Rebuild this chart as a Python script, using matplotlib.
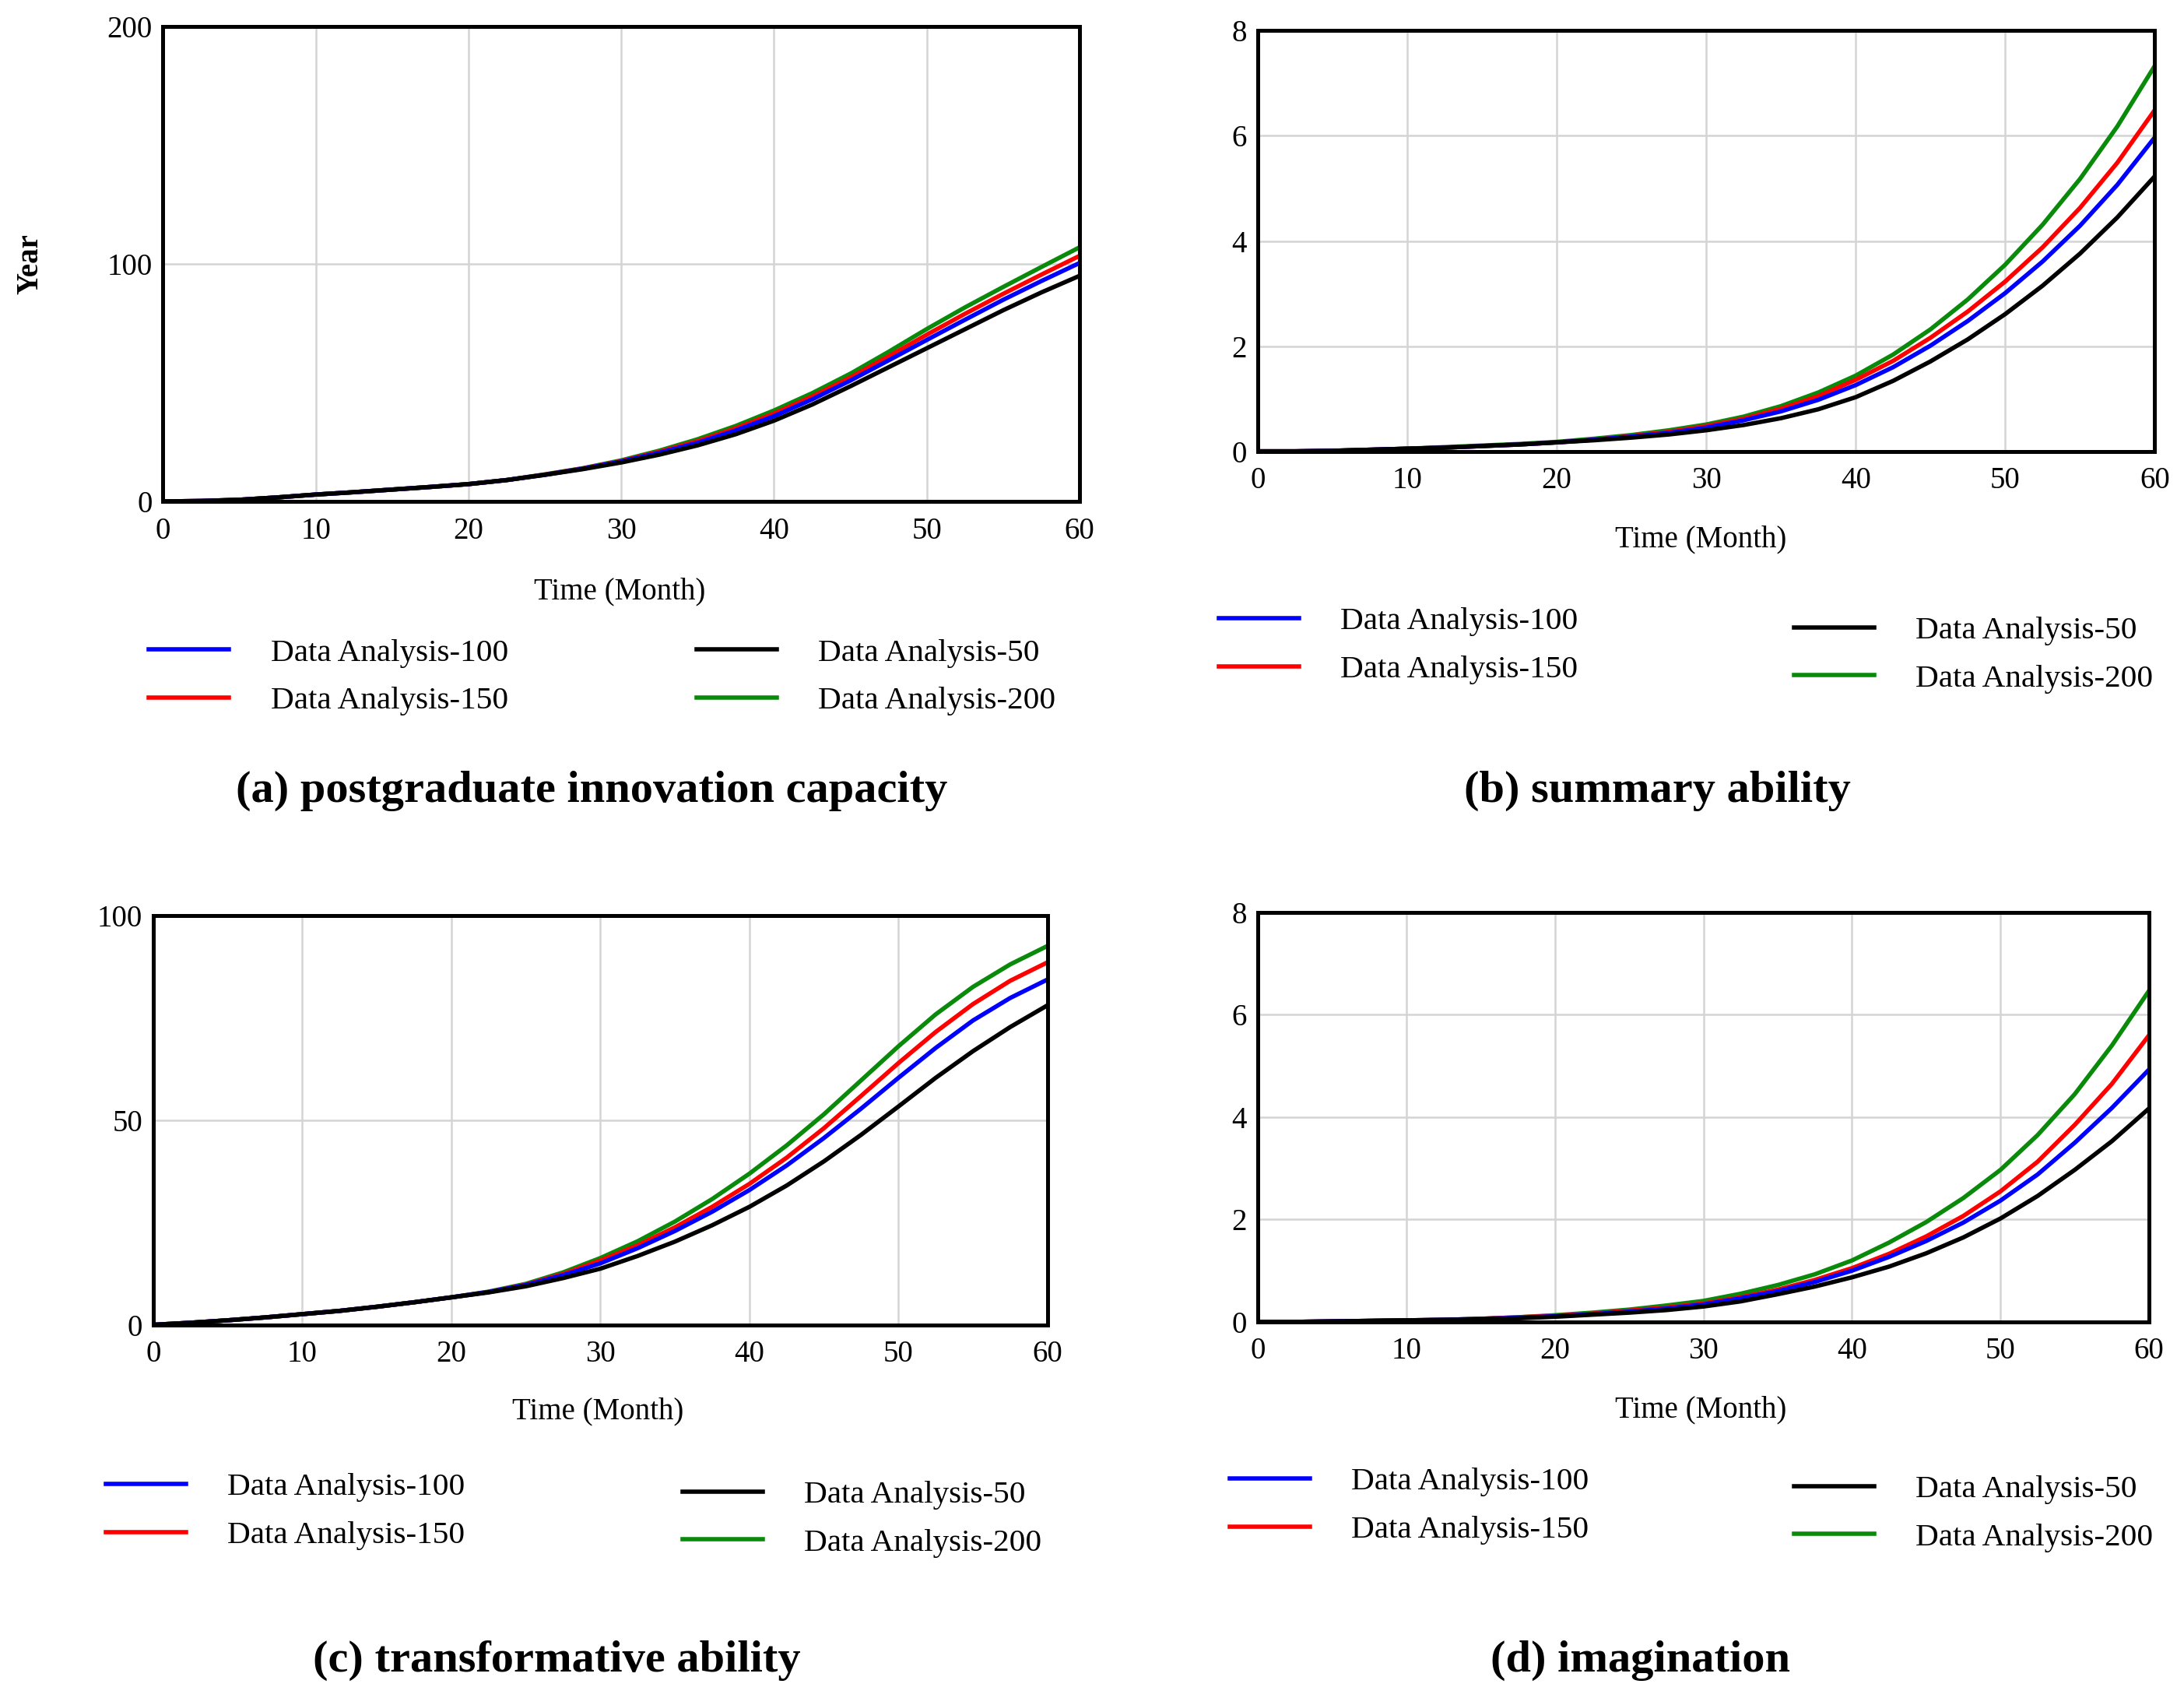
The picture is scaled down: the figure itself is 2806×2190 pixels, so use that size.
import numpy as np
import matplotlib
matplotlib.use('Agg')
import matplotlib.pyplot as plt
from matplotlib.lines import Line2D

plt.rcParams['font.family'] = ['Liberation Serif', 'DejaVu Serif']

# datos (mes 0..60 cada 2.5)
meses = [0, 2.5, 5, 7.5, 10, 12.5, 15, 17.5, 20, 22.5, 25, 27.5, 30,
         32.5, 35, 37.5, 40, 42.5, 45, 47.5, 50, 52.5, 55, 57.5, 60]

# (a) postgraduate innovation capacity
a_50 = [0, 0.2, 0.7, 1.7, 2.9, 3.9, 5.0, 6.1, 7.3, 9.0, 11.2, 13.6, 16.4,
        19.7, 23.6, 28.3, 34.0, 40.8, 48.5, 56.5, 64.5, 72.5, 80.5, 88.0, 95.0]
a_100 = [0, 0.2, 0.7, 1.7, 2.9, 3.9, 5.0, 6.1, 7.3, 9.0, 11.2, 13.8, 16.8,
         20.5, 24.7, 29.9, 35.9, 43.0, 50.9, 59.4, 68.0, 76.5, 84.9, 92.8, 100.4]
a_150 = [0, 0.2, 0.7, 1.7, 2.9, 3.9, 5.0, 6.1, 7.3, 9.0, 11.3, 13.9, 17.0,
         20.9, 25.4, 30.8, 37.0, 44.2, 52.2, 61.1, 70.2, 79.0, 87.4, 95.5, 103.4]
a_200 = [0, 0.2, 0.7, 1.7, 2.9, 3.9, 5.0, 6.1, 7.3, 9.0, 11.4, 14.0, 17.3,
         21.4, 26.2, 31.8, 38.3, 45.6, 53.8, 63.0, 72.6, 81.7, 90.3, 98.7, 107.0]

# (b) summary ability
b_50 = [0, 0, 0.01, 0.03, 0.05, 0.07, 0.10, 0.13, 0.17, 0.21, 0.26, 0.32, 0.40,
        0.50, 0.63, 0.80, 1.03, 1.34, 1.71, 2.13, 2.61, 3.15, 3.76, 4.45, 5.23]
b_100 = [0, 0, 0.01, 0.03, 0.05, 0.07, 0.10, 0.13, 0.17, 0.22, 0.28, 0.35, 0.45,
         0.59, 0.76, 0.98, 1.26, 1.60, 2.01, 2.48, 3.01, 3.61, 4.29, 5.07, 5.97]
b_150 = [0, 0, 0.01, 0.03, 0.05, 0.07, 0.10, 0.13, 0.17, 0.22, 0.29, 0.37, 0.48,
         0.62, 0.81, 1.05, 1.36, 1.72, 2.16, 2.66, 3.23, 3.88, 4.63, 5.49, 6.49]
b_200 = [0, 0, 0.01, 0.03, 0.05, 0.08, 0.11, 0.14, 0.18, 0.24, 0.31, 0.40, 0.51,
         0.66, 0.86, 1.12, 1.44, 1.84, 2.32, 2.89, 3.55, 4.31, 5.18, 6.18, 7.33]

# (c) transformative ability
c_50 = [0, 0.5, 1.1, 1.8, 2.6, 3.4, 4.4, 5.5, 6.7, 7.9, 9.4, 11.4, 13.7,
        16.8, 20.3, 24.3, 28.8, 34.0, 39.9, 46.4, 53.3, 60.3, 66.8, 72.7, 78.0]
c_100 = [0, 0.5, 1.1, 1.8, 2.6, 3.4, 4.4, 5.5, 6.7, 8.0, 9.7, 12.1, 15.0,
         18.7, 22.9, 27.6, 32.9, 38.9, 45.6, 52.8, 60.3, 67.6, 74.3, 79.8, 84.3]
c_150 = [0, 0.5, 1.1, 1.8, 2.6, 3.4, 4.4, 5.5, 6.7, 8.0, 9.8, 12.4, 15.7,
         19.4, 23.8, 28.8, 34.4, 40.8, 48.0, 55.9, 63.9, 71.5, 78.3, 84.0, 88.5]
c_200 = [0, 0.5, 1.1, 1.8, 2.6, 3.4, 4.4, 5.5, 6.7, 8.1, 10.0, 12.8, 16.3,
         20.4, 25.2, 30.7, 36.9, 43.8, 51.4, 59.7, 68.0, 75.8, 82.5, 88.0, 92.5]

# (d) imagination
d_50 = [0, 0, 0.01, 0.02, 0.03, 0.04, 0.05, 0.07, 0.10, 0.14, 0.18, 0.23, 0.30,
        0.40, 0.54, 0.69, 0.87, 1.08, 1.34, 1.65, 2.02, 2.46, 2.97, 3.53, 4.17]
d_100 = [0, 0, 0.01, 0.02, 0.03, 0.04, 0.06, 0.08, 0.11, 0.15, 0.20, 0.26, 0.34,
         0.46, 0.60, 0.78, 1.00, 1.27, 1.58, 1.94, 2.37, 2.88, 3.50, 4.18, 4.93]
d_150 = [0, 0, 0.01, 0.02, 0.03, 0.04, 0.06, 0.09, 0.12, 0.16, 0.22, 0.28, 0.36,
         0.48, 0.63, 0.82, 1.05, 1.33, 1.67, 2.07, 2.55, 3.13, 3.85, 4.65, 5.60]
d_200 = [0, 0, 0.01, 0.02, 0.03, 0.04, 0.06, 0.09, 0.13, 0.18, 0.24, 0.32, 0.41,
         0.55, 0.72, 0.93, 1.20, 1.55, 1.95, 2.42, 2.97, 3.65, 4.45, 5.40, 6.47]

xticks = [0, 10, 20, 30, 40, 50, 60]
yticks_a = [0, 100, 200]
yticks_b = [0, 2, 4, 6, 8]
yticks_c = [0, 50, 100]
yticks_d = [0, 2, 4, 6, 8]

titulos = ['(a) postgraduate innovation capacity', '(b) summary ability',
           '(c) transformative ability', '(d) imagination']
nombres = ['Data Analysis-100', 'Data Analysis-150', 'Data Analysis-50', 'Data Analysis-200']
colores = {'50': 'black', '100': '#0000ff', '150': '#ff0000', '200': '#0a8a0a'}

fig = plt.figure(figsize=(14.03, 10.95), dpi=200)
fig.patch.set_facecolor('white')

# [left, bottom, width, height] de cada panel
cajas = [[0.0746, 0.7059, 0.4197, 0.2786],
         [0.5759, 0.7353, 0.4107, 0.2467],
         [0.0702, 0.2230, 0.4094, 0.2402],
         [0.5759, 0.2247, 0.4081, 0.2402]]
datos = [(a_50, a_100, a_150, a_200, yticks_a),
         (b_50, b_100, b_150, b_200, yticks_b),
         (c_50, c_100, c_150, c_200, yticks_c),
         (d_50, d_100, d_150, d_200, yticks_d)]
xlab_pos = [(0.2838, 0.6528), (0.7787, 0.6838), (0.2736, 0.1724), (0.7787, 0.1732)]
tit_pos = [(0.271, 0.536), (0.759, 0.536), (0.255, 0.026), (0.751, 0.026)]
# posicion de las dos columnas de leyenda (inicio de linea, centro vertical)
ley_pos = [((0.0682, 0.6029), (0.3189, 0.6029)),
           ((0.5580, 0.6213), (0.8214, 0.6160)),
           ((0.0485, 0.1136), (0.3125, 0.1091)),
           ((0.5631, 0.1168), (0.8214, 0.1123))]

lw = 2.0
for i in range(4):
    y50, y100, y150, y200, yt = datos[i]
    ax = fig.add_axes(cajas[i])
    ax.plot(meses, y200, color=colores['200'], lw=lw)
    ax.plot(meses, y150, color=colores['150'], lw=lw)
    ax.plot(meses, y100, color=colores['100'], lw=lw)
    ax.plot(meses, y50, color=colores['50'], lw=lw)
    ax.set_xlim(0, 60)
    ax.set_ylim(yt[0], yt[-1])
    ax.set_xticks(xticks)
    ax.set_yticks(yt)
    ax.grid(True, color='#d4d4d4', lw=0.9)
    ax.tick_params(length=0, labelsize=14, pad=7)
    ax.tick_params(axis='y', pad=5)
    for s in ax.spines.values():
        s.set_linewidth(1.8)
        s.set_color('black')
    fig.text(xlab_pos[i][0], xlab_pos[i][1], 'Time (Month)', fontsize=14,
             ha='center', va='center')
    fig.text(tit_pos[i][0], tit_pos[i][1], titulos[i], fontsize=21, fontweight='bold',
             ha='center', va='center')
    h1 = [Line2D([], [], color=colores['100'], lw=lw), Line2D([], [], color=colores['150'], lw=lw)]
    h2 = [Line2D([], [], color=colores['50'], lw=lw), Line2D([], [], color=colores['200'], lw=lw)]
    for hs, labs, pos in [(h1, nombres[:2], ley_pos[i][0]), (h2, nombres[2:], ley_pos[i][1])]:
        fig.legend(hs, labs, loc='center left', bbox_to_anchor=pos, frameon=False,
                   fontsize=14.8, handlelength=2.5, handletextpad=1.3, labelspacing=0.58,
                   borderpad=0, borderaxespad=0)

fig.text(0.014, 0.845, 'Year', fontsize=14, fontweight='bold', rotation=90,
         ha='center', va='center')

fig.savefig('out.png', dpi=200, facecolor='white')
